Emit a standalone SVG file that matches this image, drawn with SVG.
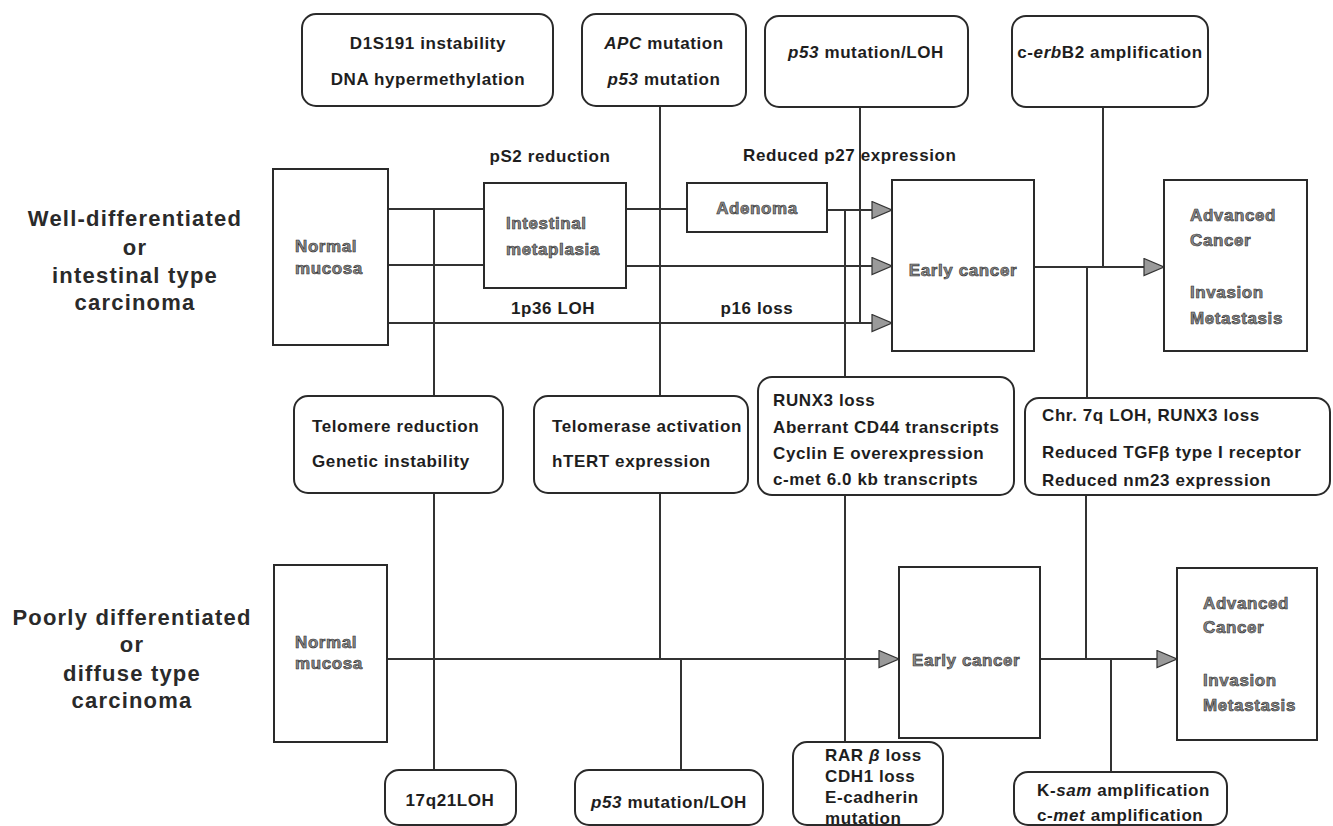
<svg xmlns="http://www.w3.org/2000/svg" width="1333" height="826" viewBox="0 0 1333 826">
<defs>
<style>
.b{fill:#fff;stroke:#2a2a2a;stroke-width:2}
.c{fill:none;stroke:#333;stroke-width:2}
text{font-family:"Liberation Sans",Arial,Helvetica,sans-serif;font-weight:bold;font-size:17px;letter-spacing:0.6px;fill:#1e1e1e}
.m{text-anchor:middle}
.h{fill:#8a8a8a;stroke:#2a2a2a;stroke-width:0.6}
.lab{font-size:22px;letter-spacing:1.2px;text-anchor:middle;fill:#2a2a2a}
.i{font-style:italic}
</style>
<marker id="ar" markerUnits="userSpaceOnUse" markerWidth="22" markerHeight="20" refX="21" refY="9.5" orient="auto" viewBox="0 0 22 20"><path d="M1,1 L21,9.5 L1,18 Z" fill="#9a9a9a" stroke="#333" stroke-width="1.2"/></marker>
</defs>
<rect width="1333" height="826" fill="#fff"/>

<g id="connectors">
<path class="c" d="M388,209 H484 M626,209 H687"/>
<path class="c" d="M827,210 H892" marker-end="url(#ar)"/>
<path class="c" d="M388,265 H484"/>
<path class="c" d="M626,266 H892" marker-end="url(#ar)"/>
<path class="c" d="M388,323 H892" marker-end="url(#ar)"/>
<path class="c" d="M434,209 V396 M434,493 V770"/>
<path class="c" d="M660,106 V396 M660,493 V659"/>
<path class="c" d="M681,659 V770"/>
<path class="c" d="M860,107 V323"/>
<path class="c" d="M845,210 V377 M845,495 V742"/>
<path class="c" d="M1103,107 V267"/>
<path class="c" d="M1087,267 V398"/>
<path class="c" d="M1034,267 H1164" marker-end="url(#ar)"/>
<path class="c" d="M388,659 H899" marker-end="url(#ar)"/>
<path class="c" d="M1086,495 V659 M1111,659 V772"/>
<path class="c" d="M1040,659 H1177" marker-end="url(#ar)"/>
</g>

<g id="label-top">
<text class="lab" x="135" y="226">Well-differentiated</text>
<text class="lab" x="135" y="255">or</text>
<text class="lab" x="135" y="283">intestinal type</text>
<text class="lab" x="135" y="310">carcinoma</text>
</g>
<g id="label-bottom">
<text class="lab" x="132" y="625">Poorly differentiated</text>
<text class="lab" x="132" y="652">or</text>
<text class="lab" x="132" y="681">diffuse type</text>
<text class="lab" x="132" y="708">carcinoma</text>
</g>

<g id="d1s191">
<rect class="b" x="302" y="14" width="251" height="92" rx="14"/>
<text class="m" x="428" y="49">D1S191 instability</text>
<text class="m" x="428" y="85">DNA hypermethylation</text>
</g>
<g id="apc">
<rect class="b" x="582" y="14" width="164" height="92" rx="14"/>
<text class="m" x="664" y="49"><tspan class="i">APC</tspan> mutation</text>
<text class="m" x="664" y="85"><tspan class="i">p53</tspan> mutation</text>
</g>
<g id="p53top">
<rect class="b" x="765" y="16" width="203" height="91" rx="14"/>
<text class="m" x="866" y="58"><tspan class="i">p53</tspan> mutation/LOH</text>
</g>
<g id="erbb2">
<rect class="b" x="1012" y="16" width="196" height="91" rx="14"/>
<text class="m" x="1110" y="58">c-<tspan class="i">erb</tspan>B2 amplification</text>
</g>

<g id="edge-labels">
<text class="m" x="550" y="162">pS2 reduction</text>
<text x="743" y="161">Reduced p27 expression</text>
<text class="m" x="553" y="314">1p36 LOH</text>
<text class="m" x="757" y="314">p16 loss</text>
</g>

<g id="normal-top">
<rect class="b" x="273" y="169" width="115" height="176"/>
<text class="h" x="295" y="252">Normal</text>
<text class="h" x="295" y="274">mucosa</text>
</g>
<g id="metaplasia">
<rect class="b" x="484" y="183" width="142" height="105"/>
<text class="h" x="506" y="229">Intestinal</text>
<text class="h" x="506" y="255">metaplasia</text>
</g>
<g id="adenoma">
<rect class="b" x="687" y="183" width="140" height="49"/>
<text class="h m" x="757" y="214">Adenoma</text>
</g>
<g id="early-top">
<rect class="b" x="892" y="180" width="142" height="171"/>
<text class="h m" x="963" y="276">Early cancer</text>
</g>
<g id="advanced-top">
<rect class="b" x="1164" y="180" width="143" height="171"/>
<text class="h" x="1190" y="221">Advanced</text>
<text class="h" x="1190" y="246">Cancer</text>
<text class="h" x="1190" y="298">Invasion</text>
<text class="h" x="1190" y="324">Metastasis</text>
</g>

<g id="telomere">
<rect class="b" x="294" y="396" width="209" height="97" rx="14"/>
<text x="312" y="432">Telomere reduction</text>
<text x="312" y="467">Genetic instability</text>
</g>
<g id="telomerase">
<rect class="b" x="534" y="396" width="214" height="97" rx="14"/>
<text x="552" y="432">Telomerase activation</text>
<text x="552" y="467">hTERT expression</text>
</g>
<g id="runx3">
<rect class="b" x="758" y="377" width="256" height="118" rx="14"/>
<text x="773" y="406">RUNX3 loss</text>
<text x="773" y="433">Aberrant CD44 transcripts</text>
<text x="773" y="459">Cyclin E overexpression</text>
<text x="773" y="485">c-met 6.0 kb transcripts</text>
</g>
<g id="chr7q">
<rect class="b" x="1025" y="398" width="305" height="97" rx="14"/>
<text x="1042" y="421">Chr. 7q LOH, RUNX3 loss</text>
<text x="1042" y="458">Reduced TGFβ type I  receptor</text>
<text x="1042" y="486">Reduced nm23 expression</text>
</g>

<g id="normal-bottom">
<rect class="b" x="274" y="565" width="113" height="177"/>
<text class="h" x="295" y="648">Normal</text>
<text class="h" x="295" y="669">mucosa</text>
</g>
<g id="early-bottom">
<rect class="b" x="899" y="567" width="141" height="171"/>
<text class="h" x="912" y="666">Early cancer</text>
</g>
<g id="advanced-bottom">
<rect class="b" x="1177" y="568" width="140" height="172"/>
<text class="h" x="1203" y="609">Advanced</text>
<text class="h" x="1203" y="633">Cancer</text>
<text class="h" x="1203" y="686">Invasion</text>
<text class="h" x="1203" y="711">Metastasis</text>
</g>

<g id="q21">
<rect class="b" x="385" y="770" width="131" height="55" rx="14"/>
<text class="m" x="450" y="806">17q21LOH</text>
</g>
<g id="p53bottom">
<rect class="b" x="575" y="770" width="188" height="55" rx="14"/>
<text class="m" x="669" y="808"><tspan class="i">p53</tspan> mutation/LOH</text>
</g>
<g id="rar">
<rect class="b" x="793" y="742" width="150" height="83" rx="14"/>
<text x="825" y="761">RAR <tspan class="i">β</tspan> loss</text>
<text x="825" y="782">CDH1 loss</text>
<text x="825" y="803">E-cadherin</text>
<text x="825" y="824">mutation</text>
</g>
<g id="ksam">
<rect class="b" x="1014" y="772" width="213" height="53" rx="14"/>
<text x="1037" y="796">K-<tspan class="i">sam</tspan> amplification</text>
<text x="1037" y="821">c-<tspan class="i">met</tspan> amplification</text>
</g>
</svg>
